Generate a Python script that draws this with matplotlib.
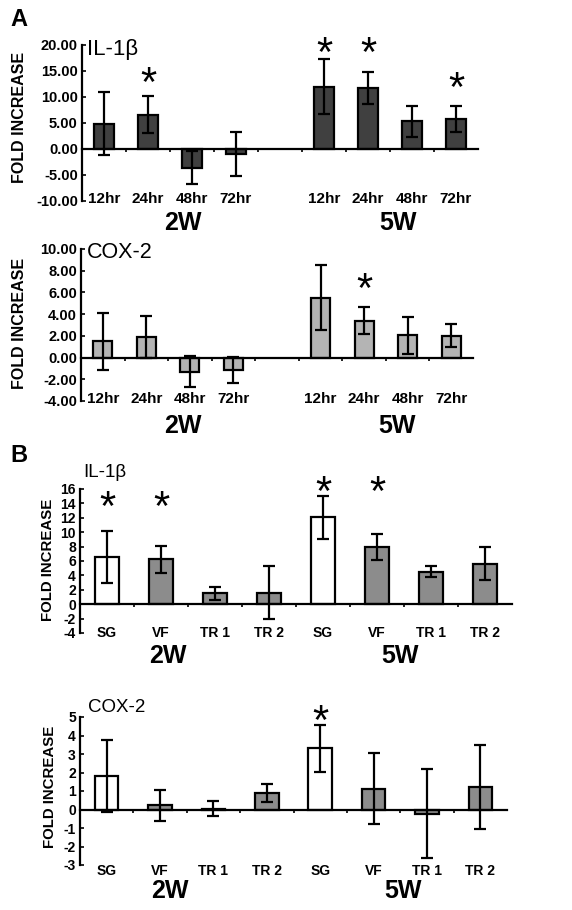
import matplotlib
matplotlib.use('Agg')
import matplotlib.pyplot as plt

plt.rcParams['font.family'] = ['Liberation Sans', 'DejaVu Sans']

# ---- данные ----
# панель A, IL-1b
a_labels = ['12hr', '24hr', '48hr', '72hr', '12hr', '24hr', '48hr', '72hr']
a_il_val = [4.9, 6.6, -3.6, -1.0, 12.0, 11.75, 5.3, 5.7]
a_il_err = [6.0, 3.5, 3.2, 4.2, 5.3, 3.0, 2.9, 2.5]
a_il_star = [None, 13.9, None, None, 19.7, 19.7, None, 13.0]
# панель A, COX-2
a_cox_val = [1.5, 1.9, -1.3, -1.15, 5.5, 3.4, 2.05, 2.0]
a_cox_err = [2.65, 1.95, 1.4, 1.2, 3.0, 1.27, 1.7, 1.05]
a_cox_star = [None, None, None, None, None, 6.9, None, None]
# панель B, IL-1b
b_labels = ['SG', 'VF', 'TR 1', 'TR 2', 'SG', 'VF', 'TR 1', 'TR 2']
b_il_val = [6.5, 6.25, 1.53, 1.6, 12.05, 7.9, 4.54, 5.65]
b_il_err = [3.6, 1.85, 0.9, 3.65, 3.0, 1.8, 0.7, 2.3]
b_il_star = [14.3, 14.3, None, None, 16.4, 16.4, None, None]
# панель B, COX-2
b_cox_val = [1.82, 0.22, 0.05, 0.9, 3.3, 1.13, -0.22, 1.2]
b_cox_err = [1.95, 0.83, 0.4, 0.5, 1.25, 1.9, 2.4, 2.28]
b_cox_star = [None, None, None, None, 5.1, None, None, None]

W, H = 572, 910
fig = plt.figure(figsize=(W / 100, H / 100), dpi=100)


def px_axes(x0, x1, ytop, ybot):
    #оси в пикселях
    return fig.add_axes([x0 / W, 1 - ybot / H, (x1 - x0) / W, (ybot - ytop) / H])


def ftext(x, y, s, **kw):
    fig.text(x / W, 1 - y / H, s, **kw)


def panel(ax, pos, nslots, vals, errs, stars, labels, colors, ylim, yticks, ytl,
          tfs, lfs, label_y, star_off):
    ax.bar(pos, vals, width=0.44, color=colors, edgecolor='black', linewidth=1.6, zorder=2)
    ax.errorbar(pos, vals, yerr=errs, fmt='none', ecolor='black', elinewidth=1.6,
                capsize=4, capthick=1.6, zorder=3)
    for p, s in zip(pos, stars):
        if s is not None:
            ax.text(p, s - star_off, '*', ha='center', va='center', fontsize=30, clip_on=False)
    for p, l in zip(pos, labels):
        ax.text(p, label_y, l, ha='center', va='center', fontsize=lfs, fontweight='bold')
    ax.set_xlim(0, nslots)
    ax.set_ylim(*ylim)
    ax.set_yticks(yticks)
    ax.set_yticklabels(ytl, fontsize=tfs, fontweight='bold')
    ax.set_xticks(range(1, nslots))
    ax.set_xticklabels([])
    ax.spines['top'].set_visible(False)
    ax.spines['right'].set_visible(False)
    ax.spines['bottom'].set_position(('data', 0))
    ax.spines['left'].set_linewidth(1.6)
    ax.spines['bottom'].set_linewidth(1.6)
    ax.tick_params(axis='y', direction='in', length=3, width=1.2, pad=3)
    ax.tick_params(axis='x', direction='out', length=2, width=1.2)
    ax.patch.set_visible(False)


posA = [0.5, 1.5, 2.5, 3.5, 5.5, 6.5, 7.5, 8.5]
posB = [0.5, 1.5, 2.5, 3.5, 4.5, 5.5, 6.5, 7.5]

# A IL-1b
ax1 = px_axes(82, 478, 45, 201)
yt = [20, 15, 10, 5, 0, -5, -10]
panel(ax1, posA, 9, a_il_val, a_il_err, a_il_star, a_labels, ['#404040'] * 8,
      (-10, 20), yt, ['%.2f' % v for v in yt], 10.5, 11, -9.6, 1.6)
# A COX-2
ax2 = px_axes(81, 473, 249, 401)
yt = [10, 8, 6, 4, 2, 0, -2, -4]
panel(ax2, posA, 9, a_cox_val, a_cox_err, a_cox_star, a_labels, ['#b4b4b4'] * 8,
      (-4, 10), yt, ['%.2f' % v for v in yt], 10.5, 11, -3.8, 0.75)
# B IL-1b
colB = ['white', '#8c8c8c', '#8c8c8c', '#8c8c8c', 'white', '#8c8c8c', '#8c8c8c', '#8c8c8c']
ax3 = px_axes(80, 512, 489, 633)
yt = list(range(16, -5, -2))
panel(ax3, posB, 8, b_il_val, b_il_err, b_il_star, b_labels, colB,
      (-4, 16), yt, [str(v) for v in yt], 10, 10, -4, 1.1)
# B COX-2
ax4 = px_axes(80, 507, 717, 865)
yt = list(range(5, -4, -1))
panel(ax4, posB, 8, b_cox_val, b_cox_err, b_cox_star, b_labels, colB,
      (-3, 5), yt, [str(v) for v in yt], 10, 10, -3.3, 0.43)

# подписи
ftext(10, 20, 'A', fontsize=17, fontweight='bold', va='center')
ftext(10, 455, 'B', fontsize=17, fontweight='bold', va='center')
ftext(87, 50, 'IL-1β', fontsize=16, va='center')
ftext(87, 253, 'COX-2', fontsize=15.5, va='center')
ftext(83, 472, 'IL-1β', fontsize=13.5, va='center')
ftext(88, 708, 'COX-2', fontsize=13.5, va='center')
for (x2, x5, y) in [(183, 398, 223), (183, 397, 426), (168, 400, 656), (170, 403, 891)]:
    ftext(x2, y, '2W', fontsize=18, fontweight='bold', ha='center', va='center')
    ftext(x5, y, '5W', fontsize=18, fontweight='bold', ha='center', va='center')
for (x, y, fs) in [(20, 117, 11.5), (20, 323, 11.5), (48, 560, 10.8), (50, 787, 10.8)]:
    ftext(x, y, 'FOLD INCREASE', fontsize=fs, fontweight='bold', rotation=90,
          ha='center', va='center')

fig.savefig('out.png', dpi=100)
